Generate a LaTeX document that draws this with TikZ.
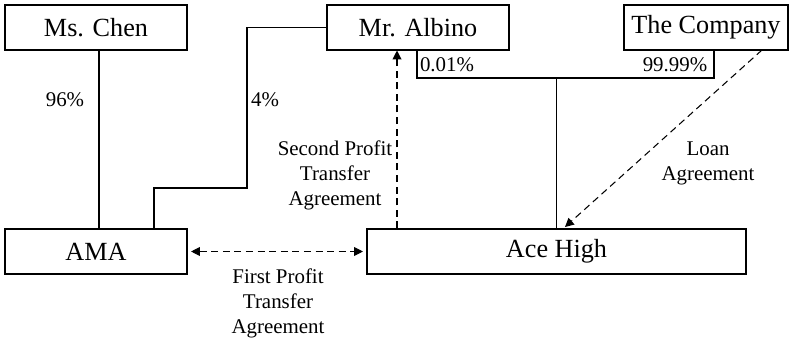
\documentclass[tikz,border=0pt]{standalone}
\usepackage{fontspec}
\setmainfont{Liberation Serif}
\usetikzlibrary{arrows.meta,positioning}

\begin{document}
\begin{tikzpicture}[
  party/.style={draw, line width=0.6pt, minimum height=0.9cm, inner sep=0pt, font=\fontsize{14.9}{17}\selectfont},
  lbl/.style={align=center, inner sep=0pt, font=\fontsize{11.9}{14.2}\selectfont},
  own/.style={draw, line width=0.6pt},
  deal/.style={draw, line width=0.6pt, dash pattern=on 4pt off 2.6pt, -{Triangle[length=5pt,width=5pt]}}
]
\useasboundingbox (0,0) rectangle (16,6.9);

% the parties
\node[party, minimum width=3.64cm] (chen) at (1.92,6.35) {Ms. Chen};
\node[party, minimum width=3.64cm] (albino) at (8.36,6.35) {Mr. Albino};
\node[party, minimum width=3.28cm] (company) at (14.12,6.35) {The Company};
\node[party, minimum width=3.64cm] (ama) at (1.92,1.87) {AMA};
\node[party, minimum width=7.58cm] (ace) at (11.13,1.87) {Ace High};

% ownership lines
\coordinate (albl) at (8.34,5.34);
\coordinate (compr) at (14.28,5.34);
\coordinate (acetop) at (11.13,5.34);
\draw[own] (chen.south -| 1.98,0) -- (ama.north -| 1.98,0);
\draw[own] (albino.west) -- (4.94,6.35) -- (4.94,3.14) -- (3.08,3.14) -- (ama.north -| 3.08,0);
\draw[own] (albino.south -| albl) -- (albl) -- (compr) -- (company.south -| compr);
\draw[own] (acetop) -- (ace.north);

% agreements
\coordinate (loanstart) at (15.24,5.9);
\draw[deal, {Triangle[length=5pt,width=5pt]}-{Triangle[length=5pt,width=5pt]}, shorten <=2pt, shorten >=2pt] (ama.east) -- (ace.west);
\draw[deal] (ace.north -| 7.94,0) -- (albino.south -| 7.94,0);
\draw[deal] (loanstart) -- (11.3,2.36);

% labels
\node[lbl] (pchen) at (1.3,4.9) {96\%};
\node[lbl] (palb) at (5.3,4.9) {4\%};
\node[lbl] (pzero) at (8.94,5.6) {0.01\%};
\node[lbl] (pnine) at (13.5,5.6) {99.99\%};
\node[lbl] (second) at (6.7,3.4) {Second Profit\\Transfer\\Agreement};
\node[lbl] (loan) at (14.16,3.63) {Loan\\Agreement};
\node[lbl] (first) at (5.56,0.84) {First Profit\\Transfer\\Agreement};
\end{tikzpicture}
\end{document}
